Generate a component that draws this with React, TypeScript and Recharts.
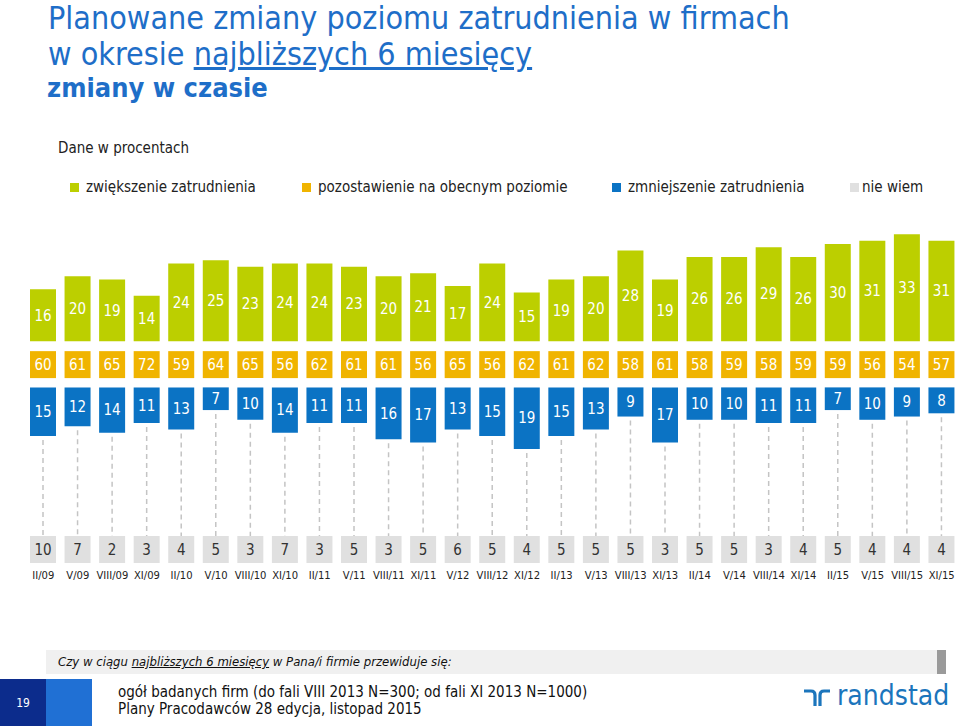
import React from "react"
import { BarChart, Bar, XAxis, YAxis, LabelList } from "recharts"

const periods = [
    "II/09", "V/09", "VIII/09", "XI/09", "II/10", "V/10", "VIII/10", "XI/10", "II/11",
    "V/11", "VIII/11", "XI/11", "V/12", "VIII/12", "XI/12", "II/13", "V/13", "VIII/13",
    "XI/13", "II/14", "V/14", "VIII/14", "XI/14", "II/15", "V/15", "VIII/15", "XI/15",
]
const increase = [16, 20, 19, 14, 24, 25, 23, 24, 24, 23, 20, 21, 17, 24, 15, 19, 20, 28, 19, 26, 26, 29, 26, 30, 31, 33, 31]
const keep = [60, 61, 65, 72, 59, 64, 65, 56, 62, 61, 61, 56, 65, 56, 62, 61, 62, 58, 61, 58, 59, 58, 59, 59, 56, 54, 57]
const decrease = [15, 12, 14, 11, 13, 7, 10, 14, 11, 11, 16, 17, 13, 15, 19, 15, 13, 9, 17, 10, 10, 11, 11, 7, 10, 9, 8]
const dontKnow = [10, 7, 2, 3, 4, 5, 3, 7, 3, 5, 3, 5, 6, 5, 4, 5, 5, 5, 3, 5, 5, 3, 4, 5, 4, 4, 4]

const legendItems = [
    { label: "zwiększenie zatrudnienia", color: "#bccf00", x: 70 },
    { label: "pozostawienie na obecnym poziomie", color: "#f0b400", x: 302 },
    { label: "zmniejszenie zatrudnienia", color: "#0b73c4", x: 612 },
    { label: "nie wiem", color: "#e0e0e0", x: 850 },
]

// layout in percent units (the value axis is shared by all rows)
const BOX = 8.33
const DROP = 45.9
const GAP1 = 2.87
const GAP2 = 3.09

const rows = periods.map((p, i) => ({
    period: p,
    increase: increase[i],
    keep: keep[i],
    decrease: decrease[i],
    dontKnow: dontKnow[i],
    boxDk: BOX,
    dash: DROP - decrease[i],
    gap1: GAP1,
    boxKeep: BOX,
    gap2: GAP2,
}))

const cond = "'DejaVu Sans Condensed', 'DejaVu Sans', sans-serif"
const valueFont = { fontFamily: cond, fontSize: 15, style: { fontStretch: "condensed" } }

function DashLine(props: any) {
    const { x, y, width, height } = props
    const cx = x + width / 2
    return (
        <line x1={cx} x2={cx} y1={y + 4} y2={y + height} stroke="#c4c4c4" strokeWidth={1.5} strokeDasharray="5 4" />
    )
}

export default function App() {
    return (
        <div style={{ position: "absolute", left: 0, top: 0, width: 960, height: 726, background: "#fff", overflow: "hidden", fontFamily: cond, fontStretch: "condensed" }}>
            <div style={{ position: "absolute", left: 48, top: 0, color: "#1e6ec8", fontSize: 32, lineHeight: "36px", whiteSpace: "nowrap" }}>
                Planowane zmiany poziomu zatrudnienia w firmach
                <br />
                w okresie <span style={{ textDecoration: "underline" }}>najbliższych 6 miesięcy</span>
            </div>
            <div style={{ position: "absolute", left: 47, top: 72, color: "#1e6ec8", fontSize: 27, fontWeight: "bold", whiteSpace: "nowrap" }}>
                zmiany w czasie
            </div>
            <div style={{ position: "absolute", left: 58, top: 139, color: "#222", fontSize: 15, whiteSpace: "nowrap" }}>
                Dane w procentach
            </div>
            {legendItems.map((it) => (
                <div key={it.label} style={{ position: "absolute", left: it.x, top: 177, height: 20, display: "flex", alignItems: "center", whiteSpace: "nowrap", fontSize: 15, color: "#222" }}>
                    <span style={{ display: "inline-block", width: 9, height: 9, background: it.color, marginRight: it.x === 850 ? 3 : 7 }} />
                    {it.label}
                </div>
            ))}

            <div style={{ position: "absolute", left: 0, top: 0, fontStretch: "normal" }}>
                <BarChart width={960} height={600} data={rows} margin={{ top: 223, right: 1, left: 26, bottom: 0 }} barSize={26}>
                    <XAxis
                        dataKey="period"
                        interval={0}
                        axisLine={false}
                        tickLine={false}
                        tickSize={0}
                        tickMargin={9}
                        height={37}
                        tick={{ fill: "#222", fontSize: 10, fontFamily: "'DejaVu Sans', sans-serif" }}
                    />
                    <YAxis hide type="number" domain={[0, 105]} allowDataOverflow />
                    <Bar dataKey="boxDk" stackId="a" fill="#e0e0e0" isAnimationActive={false}>
                        <LabelList dataKey="dontKnow" position="center" fill="#333" {...valueFont} />
                    </Bar>
                    <Bar dataKey="dash" stackId="a" fill="none" shape={DashLine} isAnimationActive={false} />
                    <Bar dataKey="decrease" stackId="a" fill="#0b73c4" isAnimationActive={false}>
                        <LabelList dataKey="decrease" position="center" fill="#fff" {...valueFont} />
                    </Bar>
                    <Bar dataKey="gap1" stackId="a" fill="none" isAnimationActive={false} />
                    <Bar dataKey="boxKeep" stackId="a" fill="#f0b400" isAnimationActive={false}>
                        <LabelList dataKey="keep" position="center" fill="#fff" {...valueFont} />
                    </Bar>
                    <Bar dataKey="gap2" stackId="a" fill="none" isAnimationActive={false} />
                    <Bar dataKey="increase" stackId="a" fill="#bccf00" isAnimationActive={false}>
                        <LabelList dataKey="increase" position="center" fill="#fff" {...valueFont} />
                    </Bar>
                </BarChart>
            </div>

            <div style={{ position: "absolute", left: 46, top: 650, width: 891, height: 24, background: "#f0f0f0" }} />
            <div style={{ position: "absolute", left: 937, top: 650, width: 9, height: 24, background: "#9a9a9a" }} />
            <div style={{ position: "absolute", left: 58, top: 654, fontSize: 13, fontStyle: "italic", color: "#111", whiteSpace: "nowrap" }}>
                Czy w ciągu <span style={{ textDecoration: "underline" }}>najbliższych 6 miesięcy</span> w Pana/i firmie przewiduje się:
            </div>

            <div style={{ position: "absolute", left: 0, top: 679, width: 46, height: 47, background: "#0c2c8c", color: "#fff", fontSize: 12, display: "flex", alignItems: "center", justifyContent: "center" }}>
                19
            </div>
            <div style={{ position: "absolute", left: 46, top: 679, width: 46, height: 47, background: "#2070d4" }} />
            <div style={{ position: "absolute", left: 118, top: 684, fontSize: 15, lineHeight: "17px", color: "#111", whiteSpace: "nowrap" }}>
                ogół badanych firm (do fali VIII 2013 N=300; od fali XI 2013 N=1000)
                <br />
                Plany Pracodawców 28 edycja, listopad 2015
            </div>

            <svg style={{ position: "absolute", left: 800, top: 684 }} width={40} height={30}>
                <path d="M4 7 H11 Q15 7 15 11 V22" fill="none" stroke="#1b75bc" strokeWidth={3.2} />
                <path d="M20 22 V11 Q20 7 24 7 H30" fill="none" stroke="#1b75bc" strokeWidth={3.2} />
            </svg>
            <div style={{ position: "absolute", left: 837, top: 679, fontSize: 28, color: "#1b75bc", whiteSpace: "nowrap" }}>
                randstad
            </div>
        </div>
    )
}
